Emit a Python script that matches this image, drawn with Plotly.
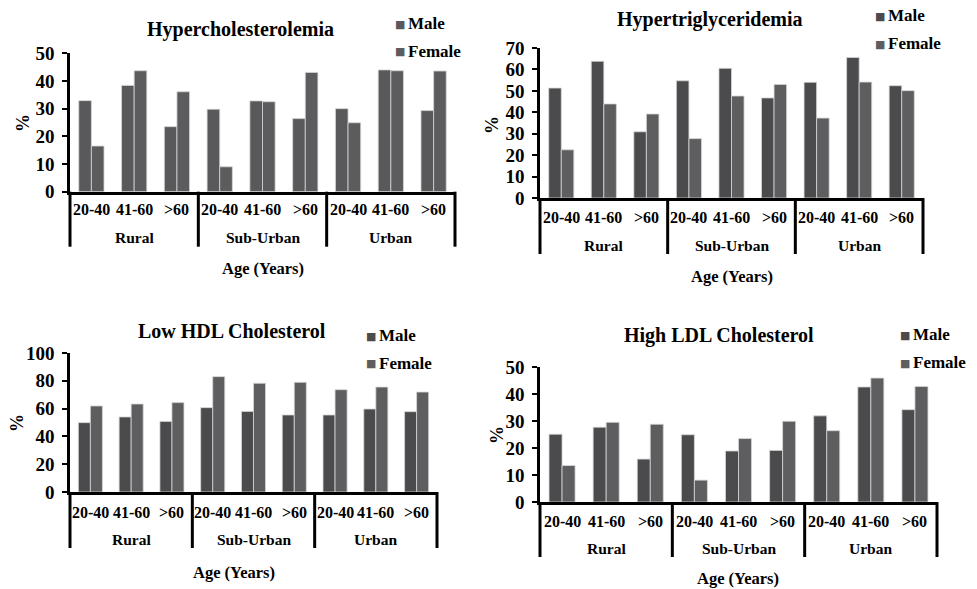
import plotly.graph_objects as go

age_labels = ["20-40", "41-60", ">60"]
area_labels = ["Rural", "Sub-Urban", "Urban"]
series_names = ["Male", "Female"]

hyperchol_male = [32.9, 38.4, 23.5, 29.8, 32.8, 26.4, 30.0, 44.0, 29.3]
hyperchol_female = [16.5, 43.7, 36.1, 9.0, 32.5, 43.1, 24.9, 43.7, 43.6]
hypertg_male = [51.3, 63.8, 30.9, 54.7, 60.5, 46.7, 54.0, 65.6, 52.4]
hypertg_female = [22.5, 43.9, 39.2, 27.7, 47.6, 53.0, 37.3, 54.1, 50.1]
lowhdl_male = [49.9, 54.0, 50.8, 60.7, 58.0, 55.4, 55.4, 59.7, 57.8]
lowhdl_female = [61.9, 63.3, 64.3, 83.0, 78.2, 78.9, 73.6, 75.5, 71.9]
highldl_male = [25.1, 27.7, 15.9, 24.9, 18.9, 19.1, 31.9, 42.6, 34.2]
highldl_female = [13.5, 29.5, 28.8, 8.1, 23.5, 29.9, 26.4, 45.9, 42.8]

W, H = 977, 589
FONT = "Liberation Serif"


def fx(px):
    return px / W


def fy(py):
    return 1 - py / H


panels = [
    dict(title="Hypercholesterolemia", male=hyperchol_male, female=hyperchol_female,
         ymax=50, dtick=10, x0=70, x1=455, ytop=53.3, ybot=191.7,
         cm="#59595b", cf="#5c5c5e", tpos=(240, 29), xtpos=(263, 268), ppos=(23, 123),
         lpos=(408, 23, 51), offs=(18, 46, 55)),
    dict(title="Hypertriglyceridemia", male=hypertg_male, female=hypertg_female,
         ymax=70, dtick=10, x0=540, x1=923, ytop=48, ybot=198,
         cm="#4b4b4d", cf="#5e5e60", tpos=(710, 20), xtpos=(732, 276), ppos=(492, 125),
         lpos=(888, 15, 43), offs=(19, 47, 56)),
    dict(title="Low HDL Cholesterol", male=lowhdl_male, female=lowhdl_female,
         ymax=100, dtick=20, x0=70, x1=437, ytop=353, ybot=492,
         cm="#4b4b4d", cf="#5e5e60", tpos=(232, 331), xtpos=(234, 572), ppos=(17, 423),
         lpos=(379, 335, 363), offs=(20, 47, 56)),
    dict(title="High LDL Cholesterol", male=highldl_male, female=highldl_female,
         ymax=50, dtick=10, x0=540, x1=937, ytop=367, ybot=502,
         cm="#4b4b4d", cf="#5e5e60", tpos=(719, 335), xtpos=(738, 578), ppos=(497, 435),
         lpos=(913, 334, 362), offs=(19, 46, 55)),
]

fig = go.Figure()
annotations = []
shapes = []
layout_axes = {}
n_age = len(age_labels)
n_cat = n_age * len(area_labels)
xs = list(range(n_cat))
cat_text = [a for _ in area_labels for a in age_labels]
bold = dict(family=FONT, color="black", weight="bold")

for k, p in enumerate(panels, start=1):
    sx = "" if k == 1 else str(k)
    xa, ya = "x" + sx, "y" + sx
    for name, vals, col in ((series_names[0], p["male"], p["cm"]),
                            (series_names[1], p["female"], p["cf"])):
        fig.add_trace(go.Bar(
            x=xs, y=vals, name=name, xaxis=xa, yaxis=ya, showlegend=False,
            marker=dict(color=col, line=dict(color="#d6d6d6", width=0.8)),
            customdata=cat_text, hovertemplate=name + " %{customdata}: %{y}%<extra></extra>"))
    layout_axes["xaxis" + sx] = dict(
        domain=[fx(p["x0"]), fx(p["x1"])], range=[-0.5, n_cat - 0.5], anchor=ya,
        showticklabels=False, ticks="", showgrid=False, zeroline=False,
        showline=True, linecolor="black", linewidth=3, fixedrange=True)
    layout_axes["yaxis" + sx] = dict(
        domain=[fy(p["ybot"]), fy(p["ytop"])], range=[0, p["ymax"]],
        dtick=p["dtick"], anchor=xa, showgrid=False, zeroline=False,
        showline=True, linecolor="black", linewidth=2.5, ticks="outside",
        ticklen=5, tickwidth=2, tickcolor="black", fixedrange=True,
        ticklabelstandoff=4, tickfont=dict(size=19, **bold))
    cat_off, grp_off, div_off = p["offs"]
    for i, lab in enumerate(cat_text):
        annotations.append(dict(x=i, xref=xa, y=0, yref=ya + " domain", yshift=-cat_off,
                                text=lab, showarrow=False, yanchor="middle",
                                font=dict(size=16, **bold)))
    for g, lab in enumerate(area_labels):
        annotations.append(dict(x=g * n_age + (n_age - 1) / 2, xref=xa,
                                y=0, yref=ya + " domain", yshift=-grp_off,
                                text=lab, showarrow=False, yanchor="middle",
                                font=dict(size=15.5, **bold)))
    for g in range(len(area_labels) + 1):
        xv = g * n_age / n_cat
        shapes.append(dict(type="line", xref=xa + " domain", yref=ya + " domain", x0=xv, x1=xv,
                           ysizemode="pixel", yanchor=0, y0=0, y1=-div_off,
                           line=dict(color="black", width=3)))
    annotations.append(dict(x=fx(p["tpos"][0]), y=fy(p["tpos"][1]), xref="paper", yref="paper",
                            text=p["title"], showarrow=False, xanchor="center", yanchor="middle",
                            font=dict(size=20, **bold)))
    annotations.append(dict(x=fx(p["xtpos"][0]), y=fy(p["xtpos"][1]), xref="paper", yref="paper",
                            text="Age (Years)", showarrow=False, xanchor="center", yanchor="middle",
                            font=dict(size=16.5, **bold)))
    annotations.append(dict(x=fx(p["ppos"][0]), y=fy(p["ppos"][1]), xref="paper", yref="paper",
                            text="%", showarrow=False, textangle=-90, xanchor="center", yanchor="middle",
                            font=dict(size=18, **bold)))
    lx, ly1, ly2 = p["lpos"]
    for name, col, ly in ((series_names[0], p["cm"], ly1), (series_names[1], p["cf"], ly2)):
        annotations.append(dict(x=fx(lx - 1), y=fy(ly + 1), xref="paper", yref="paper",
                                text="■", showarrow=False, xanchor="right", yanchor="middle",
                                font=dict(family="DejaVu Sans", size=11, color=col)))
        annotations.append(dict(x=fx(lx - 2), y=fy(ly), xref="paper", yref="paper",
                                text=name, showarrow=False, xanchor="left", yanchor="middle",
                                font=dict(size=17, **bold)))

fig.update_layout(
    width=W, height=H, autosize=False, margin=dict(l=0, r=0, t=0, b=0, autoexpand=False),
    paper_bgcolor="white", plot_bgcolor="white",
    barmode="group", bargap=0.41, bargroupgap=0,
    annotations=annotations, shapes=shapes, **layout_axes)

fig.write_html("out.html", config={"responsive": False, "displayModeBar": False},
               post_script="document.body.style.margin='0';document.body.style.overflow='hidden';")
